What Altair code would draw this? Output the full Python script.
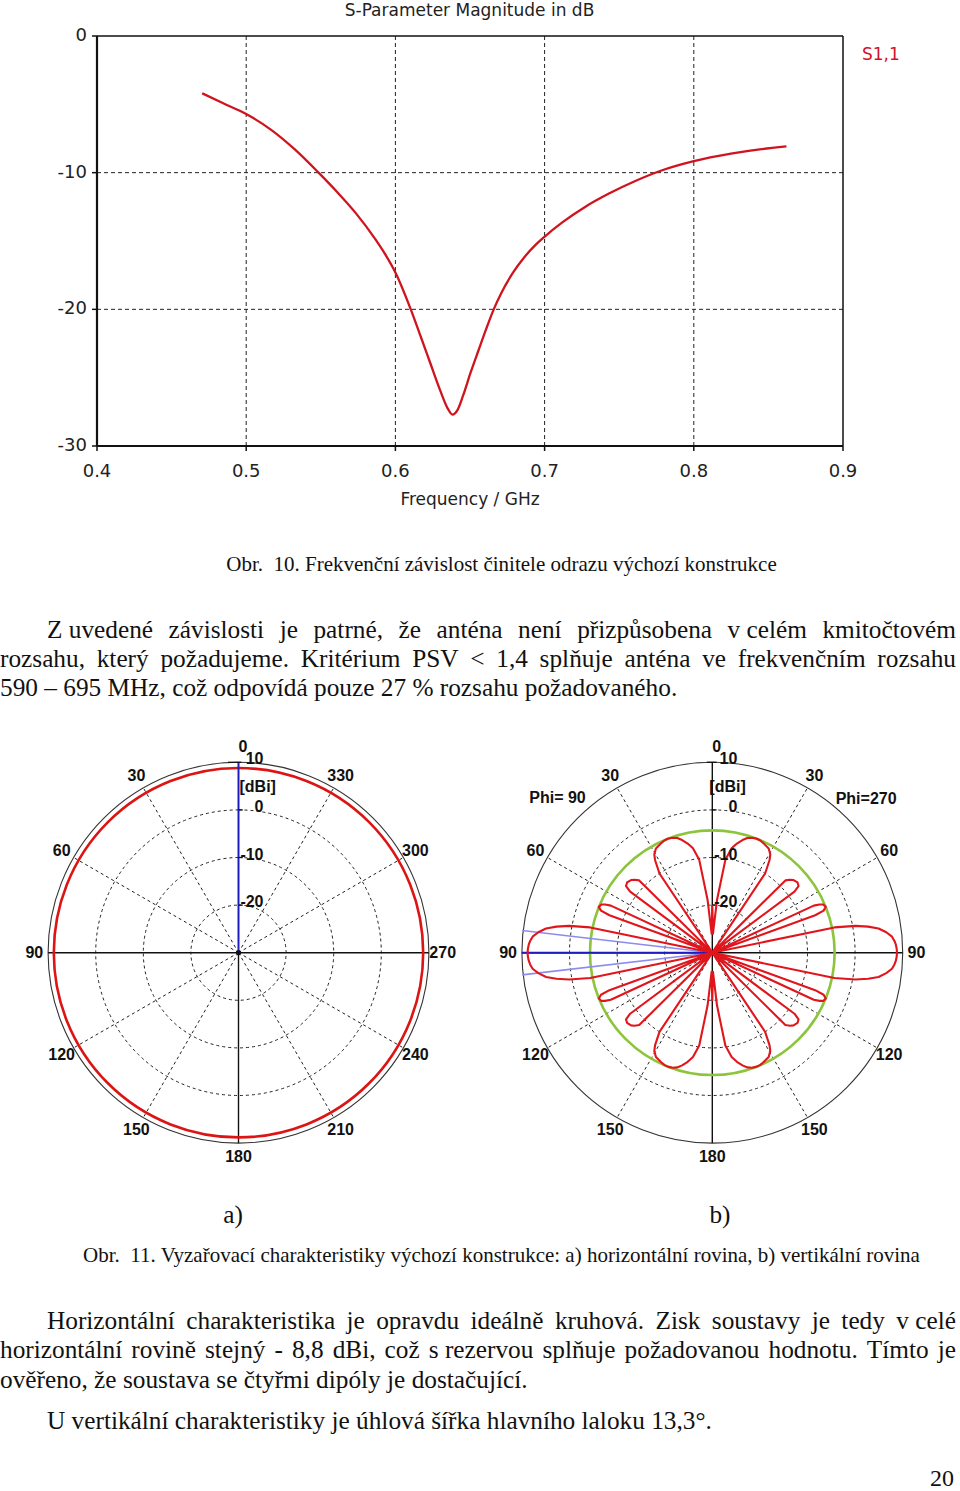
import math
import unicodedata
import altair as alt
import pandas as pd

W, H = 960, 1491

# ---------------- S-parameter chart data ----------------
s11_freq_ghz = [0.4705, 0.4839, 0.5000, 0.5172, 0.5326, 0.5485, 0.5608, 0.5736, 0.5864,
                0.5932, 0.6000, 0.6103, 0.6172, 0.6236, 0.6300, 0.6351, 0.6382, 0.6415,
                0.6454, 0.6505, 0.6556, 0.6608, 0.6659, 0.6710, 0.6787, 0.6864, 0.6941,
                0.6997, 0.7121, 0.7274, 0.7428, 0.7608, 0.7774, 0.8000, 0.8249, 0.8454,
                0.8621]
s11_db = [-4.19, -4.89, -5.71, -6.90, -8.30, -10.0, -11.40, -12.98, -14.85,
          -15.98, -17.30, -20.0, -22.06, -24.0, -25.93, -27.26, -27.70, -27.39,
          -26.30, -24.60, -23.03, -21.45, -20.0, -18.80, -17.34, -16.19, -15.27,
          -14.71, -13.62, -12.49, -11.55, -10.61, -9.88, -9.16, -8.61, -8.28,
          -8.08]
freq_ticks = [0.4, 0.5, 0.6, 0.7, 0.8, 0.9]
freq_tick_labels = ["0.4", "0.5", "0.6", "0.7", "0.8", "0.9"]
db_ticks = [0, -10, -20, -30]
db_tick_labels = ["0", "-10", "-20", "-30"]
s_title = "S-Parameter Magnitude in dB"
s_xtitle = "Frequency / GHz"
s_legend = "S1,1"

# ---------------- polar plots data ----------------
ring_dbi = [0, -10, -20]
radial_labels = ["10", "0", "-10", "-20"]
radial_label_dbi = [10, 0, -10, -20]
outer_dbi = [10]
spoke_angles = [30, 60, 120, 150, 210, 240, 300, 330]
h_gain_dbi = [8.8]                       # horizontal plane: circular pattern
h_angle_values = [30, 60, 90, 120, 150, 180, 210, 240, 270, 300, 330]
h_angle_labels = ["30", "60", "90", "120", "150", "180", "210", "240", "270", "300", "330"]
v_side_angles = [30, 60, 90, 120, 150]
v_side_labels = ["30", "60", "90", "120", "150"]
# vertical plane, one quadrant (angle from zenith, degrees) -> gain dBi
v_theta_q = [0, 2, 5.1, 8, 10.5, 12.7, 15, 17, 19, 21, 23, 25, 28.4, 30.5, 31.7, 33.7, 34.6,
             44.8, 45.3, 46.8, 48.2, 50.5, 52.3, 53.4, 53.9,
             64.6, 65.1, 65.8, 66.5, 68, 69.3, 70, 70.5,
             77.8, 78.3, 79.4, 80.5, 81.7, 83.3, 84.9, 86.3, 87.5, 88.8, 90]
v_gain_q = [-20, -26, -18.9, -10.3, -7.7, -6.5, -5.5, -4.8, -4.45, -4.3, -4.35, -4.6, -5.1, -6.0, -7.1, -10, -30,
            -30, -8.4, -7.6, -7.1, -6.8, -7.1, -8.5, -30,
            -30, -6.5, -5.3, -4.6, -4.3, -5.0, -7.0, -30,
            -30, -3.8, 0.6, 3.2, 5.3, 6.8, 7.9, 8.35, 8.6, 8.75, 8.8]
v_sidelobe_dbi = [-4.3]
v_hpbw_deg = 13.3

# ---------------- page text ----------------
caption_10 = "Obr.\u00a0 10. Frekvenční závislost činitele odrazu výchozí konstrukce"
caption_11 = ("Obr.\u00a0 11. Vyzařovací charakteristiky výchozí konstrukce: "
              "a) horizontální rovina, b) vertikální rovina")
p1_l1 = ["Z\u00a0uvedené", "závislosti", "je", "patrné,", "že", "anténa", "není",
         "přizpůsobena", "v\u00a0celém", "kmitočtovém"]
p1_l2 = ["rozsahu,", "který", "požadujeme.", "Kritérium", "PSV", "<", "1,4", "splňuje",
         "anténa", "ve", "frekvenčním", "rozsahu"]
p1_l3 = "590 – 695 MHz, což odpovídá pouze 27 % rozsahu požadovaného."
p2_l1 = ["Horizontální", "charakteristika", "je", "opravdu", "ideálně", "kruhová.", "Zisk",
         "soustavy", "je", "tedy", "v\u00a0celé"]
p2_l2 = ["horizontální", "rovině", "stejný", "-", "8,8", "dBi,", "což", "s\u00a0rezervou",
         "splňuje", "požadovanou", "hodnotu.", "Tímto", "je"]
p2_l3 = "ověřeno, že soustava se čtyřmi dipóly je dostačující."
p3_l1 = "U vertikální charakteristiky je úhlová šířka hlavního laloku 13,3°."
sub_labels = ["a)", "b)"]
page_number = "20"

BODY = 25.3
CAP = 21
SERIF = "Liberation Serif, Times New Roman, serif"
SANS_CST = "DejaVu Sans, Verdana, sans-serif"
SANS_B = "Liberation Sans, Arial, sans-serif"

# Times-Roman advance widths (per 1000 em) for simple justification
TIMES = {" ": 250, "\u00a0": 250, "%": 833, "(": 333, ")": 333, ",": 250, "-": 333, ".": 250,
         ":": 278, "<": 564, "°": 400, "–": 500,
         "A": 722, "B": 667, "C": 667, "D": 722, "E": 611, "F": 556, "G": 722, "H": 722,
         "I": 333, "J": 389, "K": 722, "L": 611, "M": 889, "N": 722, "O": 722, "P": 556,
         "Q": 722, "R": 667, "S": 556, "T": 611, "U": 722, "V": 722, "W": 944, "X": 722,
         "Y": 722, "Z": 611,
         "a": 444, "b": 500, "c": 444, "d": 500, "e": 444, "f": 333, "g": 500, "h": 500,
         "i": 278, "j": 278, "k": 500, "l": 278, "m": 778, "n": 500, "o": 500, "p": 500,
         "q": 500, "r": 333, "s": 389, "t": 278, "u": 500, "v": 500, "w": 722, "x": 500,
         "y": 500, "z": 444}
for d in "0123456789":
    TIMES[d] = 500


def text_width(s, size):
    tot = 0
    for ch in s:
        if ch in TIMES:
            tot += TIMES[ch]
        else:
            base = unicodedata.normalize("NFD", ch)[0]
            tot += TIMES.get(base, 500)
    return tot * size / 1000.0


def justify(tokens, x0, x1, y, size):
    widths = [text_width(t, size) for t in tokens]
    gap = (x1 - x0 - sum(widths)) / (len(tokens) - 1)
    rows, x = [], x0
    for t, w in zip(tokens, widths):
        rows.append({"x": x, "y": y, "t": t})
        x += w + gap
    return rows


def lin(domain, rng):
    return alt.Scale(type="linear", domain=domain, range=rng, nice=False, zero=False)


PAGE_X = lin([0, W], [0, W])
PAGE_Y = lin([0, H], [0, H])


def page_text(rows, **mk):
    return alt.Chart(pd.DataFrame(rows)).mark_text(**mk).encode(
        x=alt.X("x:Q", scale=PAGE_X, axis=None),
        y=alt.Y("y:Q", scale=PAGE_Y, axis=None),
        text="t:N")


layers = []

# ================= S-parameter chart =================
SX = lin([0.4, 0.9], [97, 843])
SY = lin([-30, 0], [446, 36])

vgrid = alt.Chart(pd.DataFrame({"f": freq_ticks[1:-1]})).transform_calculate(
    lo="-30", hi="0").mark_rule(color="#222", strokeWidth=1, strokeDash=[4, 3]).encode(
    x=alt.X("f:Q", scale=SX, axis=None), y=alt.Y("lo:Q", scale=SY, axis=None), y2="hi:Q")
hgrid = alt.Chart(pd.DataFrame({"d": db_ticks[1:-1]})).transform_calculate(
    lo="0.4", hi="0.9").mark_rule(color="#222", strokeWidth=1, strokeDash=[4, 3]).encode(
    y=alt.Y("d:Q", scale=SY, axis=None), x=alt.X("lo:Q", scale=SX, axis=None), x2="hi:Q")
frame = alt.Chart(pd.DataFrame({
    "x1": [0.4, 0.9, 0.4, 0.4], "x2": [0.9, 0.9, 0.4, 0.9],
    "y1": [0, -30, -30, -30], "y2": [0, 0, 0, -30], "w": [1.5, 1.5, 2.2, 2.2]})).mark_rule(
    color="#111").encode(
    x=alt.X("x1:Q", scale=SX, axis=None), x2="x2:Q",
    y=alt.Y("y1:Q", scale=SY, axis=None), y2="y2:Q",
    strokeWidth=alt.StrokeWidth("w:Q", scale=None))
xticks = alt.Chart(pd.DataFrame({"f": freq_ticks})).transform_calculate(
    b="-30").mark_rule(color="#111", strokeWidth=1.5, y2Offset=5).encode(
    x=alt.X("f:Q", scale=SX, axis=None), y=alt.Y("b:Q", scale=SY, axis=None), y2="b:Q")
yticks = alt.Chart(pd.DataFrame({"d": db_ticks})).transform_calculate(
    a="0.4").mark_rule(color="#111", strokeWidth=1.5, x2Offset=-5).encode(
    y=alt.Y("d:Q", scale=SY, axis=None), x=alt.X("a:Q", scale=SX, axis=None), x2="a:Q")
xlabels = alt.Chart(pd.DataFrame({"f": freq_ticks, "t": freq_tick_labels})).transform_calculate(
    b="-30").mark_text(font=SANS_CST, fontSize=18, color="#222", baseline="middle",
                       align="center", dy=26).encode(
    x=alt.X("f:Q", scale=SX, axis=None), y=alt.Y("b:Q", scale=SY, axis=None), text="t:N")
ylabels = alt.Chart(pd.DataFrame({"d": db_ticks, "t": db_tick_labels})).transform_calculate(
    a="0.4").mark_text(font=SANS_CST, fontSize=18, color="#222", baseline="middle",
                       align="right", dx=-10).encode(
    y=alt.Y("d:Q", scale=SY, axis=None), x=alt.X("a:Q", scale=SX, axis=None), text="t:N")
curve = alt.Chart(pd.DataFrame({"f": s11_freq_ghz, "d": s11_db})).mark_line(
    color="#d0141e", strokeWidth=2.3, interpolate="monotone").encode(
    x=alt.X("f:Q", scale=SX, axis=None), y=alt.Y("d:Q", scale=SY, axis=None))
layers += [vgrid, hgrid, frame, xticks, yticks, xlabels, ylabels, curve]
layers.append(page_text([{"x": 469.5, "y": 11, "t": s_title}, {"x": 470, "y": 500, "t": s_xtitle}],
                        font=SANS_CST, fontSize=17, color="#222", align="center", baseline="middle"))
layers.append(page_text([{"x": 862, "y": 55, "t": s_legend}],
                        font=SANS_CST, fontSize=17, color="#d4122a", align="left", baseline="middle"))

# ================= page text =================
rows = []
rows += justify(p1_l1, 47, 956, 637.5, BODY)
rows += justify(p1_l2, 0, 956, 666.5, BODY)
rows += [{"x": 0, "y": 695.5, "t": p1_l3}]
rows += justify(p2_l1, 47, 956, 1328.5, BODY)
rows += justify(p2_l2, 0, 956, 1357.5, BODY)
rows += [{"x": 0, "y": 1387.5, "t": p2_l3}, {"x": 47, "y": 1428.5, "t": p3_l1}]
layers.append(page_text(rows, font=SERIF, fontSize=BODY, color="#111", align="left",
                        baseline="alphabetic"))
layers.append(page_text([{"x": 501.5, "y": 571, "t": caption_10},
                         {"x": 501.5, "y": 1262, "t": caption_11}],
                        font=SERIF, fontSize=CAP, color="#111", align="center",
                        baseline="alphabetic"))
layers.append(page_text([{"x": 233, "y": 1223, "t": sub_labels[0]},
                         {"x": 720, "y": 1223, "t": sub_labels[1]}],
                        font=SERIF, fontSize=BODY, color="#111", align="center",
                        baseline="alphabetic"))
layers.append(page_text([{"x": 954, "y": 1479, "t": page_number}],
                        font=SERIF, fontSize=24, color="#111", align="right",
                        baseline="middle"))

# ================= polar plots =================
RPX = 190.4
RAD = lin([-30, 10], [0, RPX])


def pscales(cx, cy):
    return lin([-40, 40], [cx - RPX, cx + RPX]), lin([-40, 40], [cy + RPX, cy - RPX])


def circles(values, sx, sy, **mk):
    df = pd.DataFrame({"g": values, "c": [0] * len(values), "lo": [-30] * len(values)})
    return alt.Chart(df).mark_arc(filled=False, theta=0, theta2=6.2832, **mk).encode(
        x=alt.X("c:Q", scale=sx, axis=None), y=alt.Y("c:Q", scale=sy, axis=None),
        radius=alt.Radius("g:Q", scale=RAD, stack=False), radius2="lo:Q")


def polar_segs(df, sx, sy, **mk):
    # a = screen angle clockwise from top (deg), d = level in dBi
    return alt.Chart(pd.DataFrame(df)).transform_calculate(
        r1="max(datum.d1, -30) + 30", r2="max(datum.d2, -30) + 30").transform_calculate(
        x1="datum.r1 * sin(datum.a1 * PI / 180)", y1="datum.r1 * cos(datum.a1 * PI / 180)",
        x2="datum.r2 * sin(datum.a2 * PI / 180)", y2="datum.r2 * cos(datum.a2 * PI / 180)",
    ).mark_rule(**mk).encode(
        x=alt.X("x1:Q", scale=sx, axis=None), y=alt.Y("y1:Q", scale=sy, axis=None),
        x2="x2:Q", y2="y2:Q")


def polar_text(df, sx, sy, size=16, **mk):
    return alt.Chart(pd.DataFrame(df)).transform_calculate(
        r="datum.d + 30").transform_calculate(
        px="datum.r * sin(datum.a * PI / 180)", py="datum.r * cos(datum.a * PI / 180)",
    ).mark_text(font=SANS_B, fontWeight="bold", fontSize=size, color="#111", **mk).encode(
        x=alt.X("px:Q", scale=sx, axis=None), y=alt.Y("py:Q", scale=sy, axis=None),
        text="t:N")


def axis_ticks(sx, sy, cap_lo, cap_hi):
    df = pd.DataFrame({"g": radial_label_dbi})
    return alt.Chart(df).transform_calculate(
        y1="datum.g + 30",
        x1=f"datum.g == 10 ? {cap_lo} : 0",
        x2=f"datum.g == 10 ? {cap_hi} : 0.9").mark_rule(color="#111", strokeWidth=1.3).encode(
        x=alt.X("x1:Q", scale=sx, axis=None), y=alt.Y("y1:Q", scale=sy, axis=None),
        x2="x2:Q", y2="y1:Q")


LABEL_DB = 12.9


def common_grid(sx, sy):
    out = []
    out.append(circles(ring_dbi, sx, sy, stroke="#222", strokeWidth=1, strokeDash=[3, 3]))
    out.append(circles(outer_dbi, sx, sy, stroke="#333", strokeWidth=1.1))
    out.append(polar_segs({"a1": spoke_angles, "d1": [-30] * len(spoke_angles),
                           "a2": spoke_angles, "d2": [10] * len(spoke_angles)},
                          sx, sy, color="#222", strokeWidth=1, strokeDash=[3, 3]))
    return out


def radial_label_layer(sx, sy, dbi_dx):
    df = {"t": radial_labels, "a": [0] * 4, "d": radial_label_dbi}
    lab = polar_text(df, sx, sy, align="right", baseline="middle", dx=25, dy=-3)
    dbi = polar_text({"t": ["[dBi]"], "a": [0], "d": [4.9]}, sx, sy, align="left",
                     baseline="middle", dx=dbi_dx)
    zero = polar_text({"t": ["0"], "a": [0], "d": [13.2]}, sx, sy, align="center",
                      baseline="middle", dx=4.5)
    return [lab, dbi, zero]


# ---- a) horizontal plane ----
LX, LY = pscales(238.5, 952.7)
layers += common_grid(LX, LY)
layers.append(polar_segs({"a1": [270, 180], "d1": [10, -30], "a2": [90, 180], "d2": [10, 10]},
                         LX, LY, color="#111", strokeWidth=1.4))
layers.append(circles(h_gain_dbi, LX, LY, stroke="#dc1414", strokeWidth=2.6))
layers.append(polar_segs({"a1": [0], "d1": [-30], "a2": [0], "d2": [10]},
                         LX, LY, color="#1c1cc0", strokeWidth=2))
layers.append(axis_ticks(LX, LY, -2.2, 0.6))
layers.append(alt.Chart(pd.DataFrame({"c": [0]})).mark_point(
    filled=True, color="#111", size=25, opacity=1).encode(
    x=alt.X("c:Q", scale=LX, axis=None), y=alt.Y("c:Q", scale=LY, axis=None)))
layers.append(polar_text({"t": h_angle_labels, "a": [-v for v in h_angle_values],
                          "d": [LABEL_DB] * len(h_angle_values)},
                         LX, LY, align="center", baseline="middle"))
layers += radial_label_layer(LX, LY, 1)

# ---- b) vertical plane ----
RX, RY = pscales(712.3, 952.7)
layers += common_grid(RX, RY)
layers.append(polar_segs({"a1": [270, 0], "d1": [10, 10], "a2": [90, 180], "d2": [10, 10]},
                         RX, RY, color="#111", strokeWidth=1.4))
layers.append(circles(v_sidelobe_dbi, RX, RY, stroke="#8cc43c", strokeWidth=2.6))
half = v_hpbw_deg / 2
layers.append(polar_segs({"a1": [270 - half, 270 + half], "d1": [-30, -30],
                          "a2": [270 - half, 270 + half], "d2": [10.2, 10.2]},
                         RX, RY, color="#8c8cf0", strokeWidth=1.6))
layers.append(polar_segs({"a1": [270], "d1": [-30], "a2": [270], "d2": [10]},
                         RX, RY, color="#1c1cc0", strokeWidth=2))
layers.append(axis_ticks(RX, RY, -1.2, 0.9))

quad = list(zip(v_theta_q, v_gain_q))
right_half = quad + [(180 - t, g) for t, g in reversed(quad[:-1])]
full = right_half + [(360 - t, g) for t, g in reversed(right_half[:-1])]
pat = pd.DataFrame({"i": list(range(len(full))), "t": [p[0] for p in full],
                    "g": [p[1] for p in full]})
layers.append(alt.Chart(pat).transform_calculate(
    r="max(datum.g, -30) + 30").transform_calculate(
    px="datum.r * sin(datum.t * PI / 180)", py="datum.r * cos(datum.t * PI / 180)").mark_line(
    color="#e0161c", strokeWidth=2.1, strokeJoin="round").encode(
    x=alt.X("px:Q", scale=RX, axis=None), y=alt.Y("py:Q", scale=RY, axis=None),
    order="i:Q"))

v_lab_t = v_side_labels + v_side_labels + ["180"]
v_lab_a = [-v for v in v_side_angles] + list(v_side_angles) + [180]
layers.append(polar_text({"t": v_lab_t, "a": v_lab_a, "d": [LABEL_DB] * len(v_lab_t)},
                         RX, RY, align="center", baseline="middle"))
layers.append(polar_text({"t": ["Phi= 90", "Phi=270"], "a": [-45, 45], "d": [16, 15.7]},
                         RX, RY, align="center", baseline="middle"))
layers += radial_label_layer(RX, RY, -3)

chart = alt.layer(*layers).resolve_scale(
    x="independent", y="independent", radius="independent"
).properties(
    width=W, height=H, padding=0, background="white",
    autosize=alt.AutoSizeParams(type="none"),
).configure_view(strokeWidth=0)

chart.save("out.html", embed_options={"renderer": "svg", "actions": False})
